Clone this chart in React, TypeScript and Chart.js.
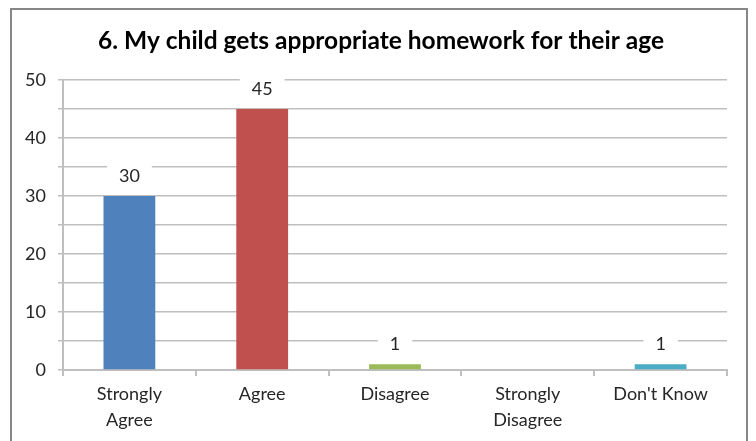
import { useEffect, useRef } from "react";
import { Chart, registerables, type Plugin } from "chart.js";

Chart.register(...registerables);

const TITLE = "6. My child gets appropriate homework for their age";
const CATEGORIES: (string | string[])[] = [["Strongly", "Agree"], "Agree", "Disagree", ["Strongly", "Disagree"], "Don't Know"];
const VALUES = [30, 45, 1, 0, 1];
const COLORS = ["#4F81BD", "#C0504D", "#9BBB59", "#8064A2", "#4BACC6"];
const Y_MAX = 50;

const FONT = "Lato, 'Open Sans', sans-serif";
const GRID = "#bfbfbf";
const INK = "#262626";

// value labels with a white box behind them, like the Excel original
const valueLabels: Plugin<"bar"> = {
  id: "valueLabels",
  afterDatasetsDraw(chart) {
    const { ctx } = chart;
    const meta = chart.getDatasetMeta(0);
    ctx.save();
    ctx.font = `18px ${FONT}`;
    ctx.textAlign = "center";
    ctx.textBaseline = "middle";
    meta.data.forEach((bar: any, i) => {
      const val = VALUES[i];
      if (!val) return;
      const text = String(val);
      const w = ctx.measureText(text).width + 24;
      const y = bar.y - 20;
      ctx.fillStyle = "#ffffff";
      ctx.fillRect(bar.x - w / 2, y - 12, w, 24);
      ctx.fillStyle = INK;
      ctx.fillText(text, bar.x, y);
    });
    ctx.restore();
  },
};

// title centred on the whole frame, not on the padded chart box
const frameTitle: Plugin<"bar"> = {
  id: "frameTitle",
  afterDraw(chart) {
    const { ctx } = chart;
    ctx.save();
    ctx.font = `bold 24.5px ${FONT}`;
    ctx.fillStyle = "#000";
    ctx.textAlign = "center";
    ctx.textBaseline = "middle";
    ctx.fillText(TITLE, chart.width / 2 + 2, 31);
    ctx.restore();
  },
};

export default function App() {
  const ref = useRef<HTMLCanvasElement>(null);

  useEffect(() => {
    if (!ref.current) return;
    const chart = new Chart(ref.current, {
      type: "bar",
      data: {
        labels: CATEGORIES,
        datasets: [{ data: VALUES, backgroundColor: COLORS, borderWidth: 0, categoryPercentage: 1, barPercentage: 0.39 }],
      },
      options: {
        responsive: false, animation: false,
        layout: { padding: { left: 0, right: 19, top: 70, bottom: 0 } },
        plugins: { legend: { display: false }, tooltip: { enabled: false }, title: { display: false } },
        scales: {
          x: {
            grid: { display: true, offset: true, drawOnChartArea: false, drawTicks: true, tickLength: 6, color: GRID, lineWidth: 2 },
            border: { display: true, color: GRID, width: 2 },
            ticks: { color: INK, font: { family: FONT, size: 18, lineHeight: 1.4 }, padding: 6, maxRotation: 0, autoSkip: false },
            afterFit: (s: any) => { s.height = 71; },
          },
          y: {
            min: 0, max: Y_MAX,
            grid: { color: GRID, lineWidth: 1.5, tickLength: 5 },
            border: { display: true, color: GRID, width: 2 },
            ticks: {
              stepSize: 5, color: INK, font: { family: FONT, size: 18 }, padding: 12,
              callback: (v: any) => (v % 10 === 0 ? v : ""),
            },
            afterFit: (s: any) => { s.width = 51; },
          },
        },
      },
      plugins: [valueLabels, frameTitle],
    });
    return () => chart.destroy();
  }, []);

  return (
    <div style={{ marginLeft: 2, width: 734, height: 440, border: "2px solid #878787", background: "#fff" }}>
      <canvas ref={ref} width={734} height={431} style={{ display: "block" }} />
    </div>
  );
}
